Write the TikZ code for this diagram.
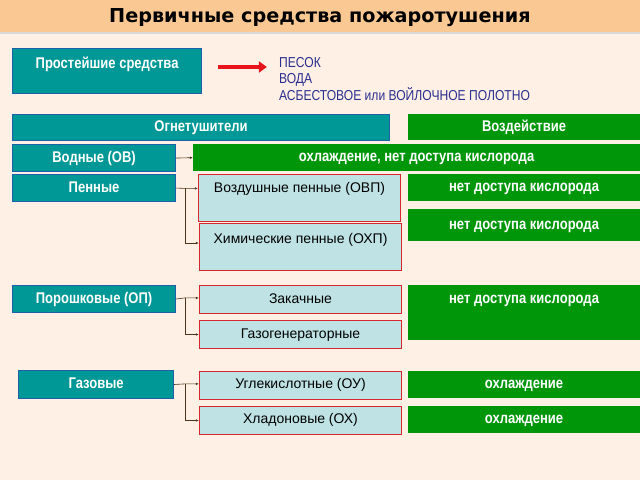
\documentclass[tikz,border=0pt]{standalone}
\usepackage{fontspec}
\setmainfont[FakeStretch=0.84]{Liberation Sans}
\newfontfamily\plainfont{Liberation Sans}
\newfontfamily\titlefont{DejaVu Sans}
\usetikzlibrary{arrows.meta}
\definecolor{bgpeach}{HTML}{FEF0E4}
\definecolor{bandorange}{HTML}{F9C893}
\definecolor{tealbox}{HTML}{009797}
\definecolor{tealedge}{HTML}{1D5FA8}
\definecolor{greenbox}{HTML}{00960A}
\definecolor{lightbox}{HTML}{BFE2E4}
\definecolor{rededge}{HTML}{D8262E}
\definecolor{arrowred}{HTML}{E8141C}
\definecolor{listblue}{HTML}{2B2F8F}
\tikzset{
  kind/.style={draw=tealedge, fill=tealbox, line width=1.2pt, text=white,
    font=\bfseries\fontsize{15.5}{17}\selectfont, anchor=north west,
    inner sep=0pt, text height=11pt, text depth=3pt},
  effect/.style={fill=greenbox, text=white, font=\bfseries\fontsize{15.5}{17}\selectfont,
    anchor=north west, inner sep=0pt, text height=11pt, text depth=3pt},
  subkind/.style={draw=rededge, fill=lightbox, line width=1.2pt, text=black,
    font=\plainfont\fontsize{14}{16}\selectfont, anchor=north west,
    inner sep=0pt, text height=10pt, text depth=3pt},
  toptext/.style 2 args={text height=#1, text depth=#2},
  link/.style={draw=black!60!brown, line width=0.6pt, -{Latex[length=3pt,width=2.5pt]}}
}
\begin{document}
\begin{tikzpicture}[x=1pt,y=-1pt]
  % page and title band
  \fill[bgpeach] (0,0) rectangle (640,480);
  \fill[black!15] (0,32) rectangle (640,34);
  \fill[bandorange] (0,0) rectangle (640,32);
  \node[font=\titlefont\bfseries\fontsize{19.2}{21}\selectfont] (title) at (320,18)
    {Первичные средства пожаротушения};

  % simplest means
  \node[kind, minimum width=189, minimum height=45, toptext={19.5pt}{25.5pt}] (simple) at (12,48)
    {Простейшие средства};
  \coordinate (arrtip) at (267,67);
  \draw[arrowred, line width=4pt, -{Triangle[length=8pt,width=11pt]}] (218,67) -- (arrtip);
  \node[anchor=north west, align=left, text=listblue, inner sep=0pt,
    font=\fontsize{14.4}{16.5}\selectfont] (list) at (279,57)
    {ПЕСОК\\ВОДА\\АСБЕСТОВОЕ или ВОЙЛОЧНОЕ ПОЛОТНО};

  % headers
  \node[kind, minimum width=377, minimum height=26] (ext) at (12,114) {Огнетушители};
  \node[effect, minimum width=232, minimum height=26] (act) at (408,114) {Воздействие};

  % water
  \node[kind, minimum width=163, minimum height=27] (water) at (12,144) {Водные (ОВ)};
  \node[effect, minimum width=447, minimum height=27] (watereff) at (193,144)
    {охлаждение, нет доступа кислорода};
  \draw[link] (water.east) -- (watereff.west);

  % foam
  \node[kind, minimum width=163, minimum height=27] (foam) at (12,174) {Пенные};
  \node[subkind, minimum width=202, minimum height=47, toptext={17.5pt}{29.5pt}] (airfoam) at (198,174)
    {Воздушные пенные (ОВП)};
  \node[subkind, minimum width=202, minimum height=47, toptext={19.5pt}{27.5pt}] (chemfoam) at (199,223)
    {Химические пенные (ОХП)};
  \node[effect, minimum width=232, minimum height=27] (airfoameff) at (408,174)
    {нет доступа кислорода};
  \node[effect, minimum width=232, minimum height=32] (chemfoameff) at (408,209)
    {нет доступа кислорода};
  \coordinate (foamfork) at (185,188.5);
  \draw[link] (foam.east) -- (foamfork) -- (airfoam.west |- foamfork);
  \draw[link] (foamfork) |- ([yshift=4pt]chemfoam.west);

  % powder
  \node[kind, minimum width=163, minimum height=27] (powder) at (12,285) {Порошковые (ОП)};
  \node[subkind, minimum width=202, minimum height=28] (pumped) at (199,285) {Закачные};
  \node[subkind, minimum width=202, minimum height=28] (gasgen) at (199,320) {Газогенераторные};
  \node[effect, minimum width=232, minimum height=55, toptext={18.5pt}{36.5pt}] (powdereff) at (408,285)
    {нет доступа кислорода};
  \coordinate (powderfork) at (185,298);
  \draw[link] (powder.east) -- (powderfork) -- (pumped.west |- powderfork);
  \draw[link] (powderfork) |- (gasgen.west);

  % gas
  \node[kind, minimum width=155, minimum height=28] (gas) at (18,370) {Газовые};
  \node[subkind, minimum width=202, minimum height=28] (carbon) at (199,371) {Углекислотные (ОУ)};
  \node[subkind, minimum width=202, minimum height=28] (freon) at (199,406) {Хладоновые (ОХ)};
  \node[effect, minimum width=232, minimum height=27] (carboneff) at (408,371) {охлаждение};
  \node[effect, minimum width=232, minimum height=27] (freoneff) at (408,406) {охлаждение};
  \coordinate (gasfork) at (185,384);
  \draw[link] (gas.east) -- (gasfork) -- (carbon.west |- gasfork);
  \draw[link] (gasfork) |- (freon.west);
\end{tikzpicture}
\end{document}
